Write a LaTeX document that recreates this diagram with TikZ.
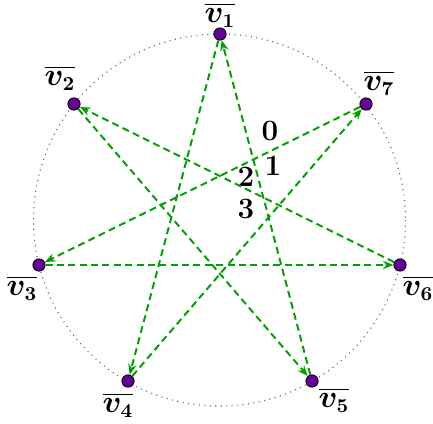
\documentclass[tikz,border=0pt]{standalone}
\usepackage{amsmath,bm}
\usetikzlibrary{arrows.meta}
\definecolor{edgegreen}{RGB}{0,160,0}
\definecolor{vfill}{RGB}{100,0,150}
\begin{document}
\begin{tikzpicture}[x=0.457pt,y=-0.457pt,
  vert/.style={circle,draw=black,fill=vfill,inner sep=0pt,minimum size=5.6pt,line width=0.4pt},
  lab/.style={inner sep=1pt,font=\fontsize{13.5}{16}\selectfont},
  num/.style={inner sep=0pt,font=\fontsize{13.5}{16}\selectfont\bfseries},
  edge/.style={draw=edgegreen,line width=0.9pt,dash pattern=on 3.2pt off 2pt,-{Stealth[length=4.8pt,width=3.8pt]}},
]
\useasboundingbox (0,0) rectangle (433,423);
\draw[gray!80!black,dotted,line width=0.5pt] (219.5,220) circle[radius=186];
\node[vert] (v1) at (220,34) {};
\node[vert] (v2) at (74,104) {};
\node[vert] (v3) at (39,265) {};
\node[vert] (v4) at (128,381) {};
\node[vert] (v5) at (312,381) {};
\node[vert] (v6) at (400,265) {};
\node[vert] (v7) at (366,104) {};
\node[lab] (l1) at (220,15) {$\boldsymbol{\overline{v_1}}$};
\node[lab] (l2) at (60,78) {$\boldsymbol{\overline{v_2}}$};
\node[lab] (l3) at (22,288) {$\boldsymbol{\overline{v_3}}$};
\node[lab] (l4) at (118,405) {$\boldsymbol{\overline{v_4}}$};
\node[lab] (l5) at (334,400) {$\boldsymbol{\overline{v_5}}$};
\node[lab] (l6) at (418,288) {$\boldsymbol{\overline{v_6}}$};
\node[lab] (l7) at (379,83) {$\boldsymbol{\overline{v_7}}$};
\node[num] (n0) at (270,131) {0};
\node[num] (n1) at (273,166) {1};
\node[num] (n2) at (246,177) {2};
\node[num] (n3) at (246,209) {3};
\draw[edge] (v1) -- (v4);
\draw[edge] (v4) -- (v7);
\draw[edge] (v7) -- (v3);
\draw[edge] (v3) -- (v6);
\draw[edge] (v6) -- (v2);
\draw[edge] (v2) -- (v5);
\draw[edge] (v5) -- (v1);
\end{tikzpicture}
\end{document}
